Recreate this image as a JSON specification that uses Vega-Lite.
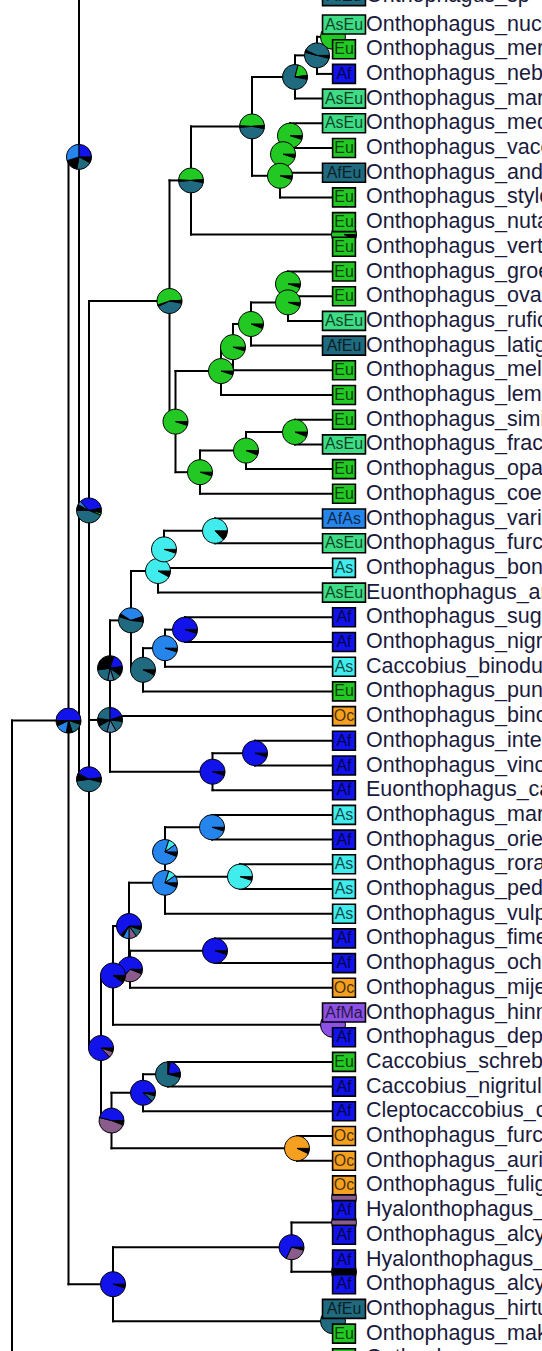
{
  "$schema": "https://vega.github.io/schema/vega-lite/v6.json",
  "width": 542,
  "height": 1351,
  "padding": 0,
  "autosize": {"type": "fit", "contains": "padding"},
  "background": "white",
  "config": {"view": {"stroke": null}},
  "datasets": {
    "nodes": [
      {"id": "R12", "x": 12, "y": 80, "p": null},
      {"id": "A", "x": 68.5, "y": 28.18, "p": "R12"},
      {"id": "B", "x": 79, "y": 5.36, "p": "A"},
      {"id": "Btop", "x": 250, "y": -19.84, "p": "B"},
      {"id": "F", "x": 89, "y": 30.557, "p": "B"},
      {"id": "E", "x": 89, "y": 19.676, "p": "F"},
      {"id": "N170", "x": 169.5, "y": 11.195, "p": "E"},
      {"id": "N192", "x": 191, "y": 6.3125, "p": "N170"},
      {"id": "N252", "x": 252, "y": 4.125, "p": "N192"},
      {"id": "N295", "x": 295, "y": 2.125, "p": "N252"},
      {"id": "N317", "x": 317, "y": 1.25, "p": "N295"},
      {"id": "H0", "x": 333, "y": 0.5, "p": "N317"},
      {"id": "N280", "x": 280, "y": 6.125, "p": "N252"},
      {"id": "N283", "x": 283, "y": 5.25, "p": "N280"},
      {"id": "N290", "x": 290, "y": 4.5, "p": "N283"},
      {"id": "H8", "x": 344, "y": 8.5, "p": "N192"},
      {"id": "N176", "x": 175.5, "y": 16.078, "p": "N170"},
      {"id": "N221", "x": 221, "y": 14.031, "p": "N176"},
      {"id": "N233", "x": 233, "y": 13.0625, "p": "N221"},
      {"id": "N251", "x": 251, "y": 12.125, "p": "N233"},
      {"id": "N288b", "x": 288, "y": 11.25, "p": "N251"},
      {"id": "N288a", "x": 288, "y": 10.5, "p": "N288b"},
      {"id": "N200", "x": 200, "y": 18.125, "p": "N176"},
      {"id": "N246", "x": 246, "y": 17.25, "p": "N200"},
      {"id": "N295b", "x": 295, "y": 16.5, "p": "N246"},
      {"id": "D", "x": 110, "y": 28.156, "p": "E"},
      {"id": "N110", "x": 110, "y": 26.0625, "p": "D"},
      {"id": "N131", "x": 131, "y": 24.125, "p": "N110"},
      {"id": "N158", "x": 158, "y": 22.125, "p": "N131"},
      {"id": "N164", "x": 164, "y": 21.25, "p": "N158"},
      {"id": "N215a", "x": 215, "y": 20.5, "p": "N164"},
      {"id": "N143a", "x": 143, "y": 26.125, "p": "N131"},
      {"id": "N165b", "x": 165, "y": 25.25, "p": "N143a"},
      {"id": "N185", "x": 185, "y": 24.5, "p": "N165b"},
      {"id": "N212b", "x": 212.5, "y": 30.25, "p": "D"},
      {"id": "N255", "x": 255, "y": 29.5, "p": "N212b"},
      {"id": "G", "x": 101, "y": 41.4375, "p": "F"},
      {"id": "N113", "x": 113, "y": 38.5, "p": "G"},
      {"id": "N129", "x": 129, "y": 36.5, "p": "N113"},
      {"id": "N165c", "x": 165, "y": 34.75, "p": "N129"},
      {"id": "N165d", "x": 165, "y": 33.5, "p": "N165c"},
      {"id": "N212", "x": 212, "y": 32.5, "p": "N165d"},
      {"id": "N240", "x": 240, "y": 34.5, "p": "N165d"},
      {"id": "N130", "x": 130, "y": 38.25, "p": "N129"},
      {"id": "N215b", "x": 215, "y": 37.5, "p": "N130"},
      {"id": "H40", "x": 333, "y": 40.5, "p": "N113"},
      {"id": "N111", "x": 111.5, "y": 44.375, "p": "G"},
      {"id": "N143b", "x": 143, "y": 43.25, "p": "N111"},
      {"id": "N168", "x": 168, "y": 42.5, "p": "N143b"},
      {"id": "N297", "x": 297, "y": 45.5, "p": "N111"},
      {"id": "H47", "x": 344, "y": 47.5, "p": null},
      {"id": "C", "x": 113, "y": 51, "p": "A"},
      {"id": "N292", "x": 291.5, "y": 49.5, "p": "C"},
      {"id": "H48", "x": 344, "y": 48.5, "p": "N292"},
      {"id": "H50", "x": 344, "y": 50.5, "p": "N292"},
      {"id": "H52", "x": 333, "y": 52.5, "p": "C"},
      {"id": "t-1", "x": 344, "y": -1.15, "p": null, "r": "AfEu", "name": "Onthophagus_sp"},
      {"id": "t0", "x": 344, "y": 0, "p": "H0", "r": "AsEu", "name": "Onthophagus_nuchicornis"},
      {"id": "t1", "x": 344, "y": 1, "p": "H0", "r": "Eu", "name": "Onthophagus_merdarius"},
      {"id": "t2", "x": 344, "y": 2, "p": "N317", "r": "Af", "name": "Onthophagus_nebulosus"},
      {"id": "t3", "x": 344, "y": 3, "p": "N295", "r": "AsEu", "name": "Onthophagus_marginalis"},
      {"id": "t4", "x": 344, "y": 4, "p": "N290", "r": "AsEu", "name": "Onthophagus_medorensis"},
      {"id": "t5", "x": 344, "y": 5, "p": "N290", "r": "Eu", "name": "Onthophagus_vacca"},
      {"id": "t6", "x": 344, "y": 6, "p": "N283", "r": "AfEu", "name": "Onthophagus_andalusicus"},
      {"id": "t7", "x": 344, "y": 7, "p": "N280", "r": "Eu", "name": "Onthophagus_stylocerus"},
      {"id": "t8", "x": 344, "y": 8, "p": "H8", "r": "Eu", "name": "Onthophagus_nutans"},
      {"id": "t9", "x": 344, "y": 9, "p": "H8", "r": "Eu", "name": "Onthophagus_verticicornis"},
      {"id": "t10", "x": 344, "y": 10, "p": "N288a", "r": "Eu", "name": "Onthophagus_groenbechi"},
      {"id": "t11", "x": 344, "y": 11, "p": "N288a", "r": "Eu", "name": "Onthophagus_ovatus"},
      {"id": "t12", "x": 344, "y": 12, "p": "N288b", "r": "AsEu", "name": "Onthophagus_ruficapillus"},
      {"id": "t13", "x": 344, "y": 13, "p": "N251", "r": "AfEu", "name": "Onthophagus_latigena"},
      {"id": "t14", "x": 344, "y": 14, "p": "N233", "r": "Eu", "name": "Onthophagus_melitaeus"},
      {"id": "t15", "x": 344, "y": 15, "p": "N221", "r": "Eu", "name": "Onthophagus_lemur"},
      {"id": "t16", "x": 344, "y": 16, "p": "N295b", "r": "Eu", "name": "Onthophagus_similis"},
      {"id": "t17", "x": 344, "y": 17, "p": "N295b", "r": "AsEu", "name": "Onthophagus_fracticornis"},
      {"id": "t18", "x": 344, "y": 18, "p": "N246", "r": "Eu", "name": "Onthophagus_opacicollis"},
      {"id": "t19", "x": 344, "y": 19, "p": "N200", "r": "Eu", "name": "Onthophagus_coenobita"},
      {"id": "t20", "x": 344, "y": 20, "p": "N215a", "r": "AfAs", "name": "Onthophagus_variegatus"},
      {"id": "t21", "x": 344, "y": 21, "p": "N215a", "r": "AsEu", "name": "Onthophagus_furcatus"},
      {"id": "t22", "x": 344, "y": 22, "p": "N164", "r": "As", "name": "Onthophagus_bonasus"},
      {"id": "t23", "x": 344, "y": 23, "p": "N158", "r": "AsEu", "name": "Euonthophagus_amyntas"},
      {"id": "t24", "x": 344, "y": 24, "p": "N185", "r": "Af", "name": "Onthophagus_sugillatus"},
      {"id": "t25", "x": 344, "y": 25, "p": "N185", "r": "Af", "name": "Onthophagus_nigriventris"},
      {"id": "t26", "x": 344, "y": 26, "p": "N165b", "r": "As", "name": "Caccobius_binodulus"},
      {"id": "t27", "x": 344, "y": 27, "p": "N143a", "r": "Eu", "name": "Onthophagus_punctatus"},
      {"id": "t28", "x": 344, "y": 28, "p": "N110", "r": "Oc", "name": "Onthophagus_binodis"},
      {"id": "t29", "x": 344, "y": 29, "p": "N255", "r": "Af", "name": "Onthophagus_interstitialis"},
      {"id": "t30", "x": 344, "y": 30, "p": "N255", "r": "Af", "name": "Onthophagus_vinctus"},
      {"id": "t31", "x": 344, "y": 31, "p": "N212b", "r": "Af", "name": "Euonthophagus_carbonarius"},
      {"id": "t32", "x": 344, "y": 32, "p": "N212", "r": "As", "name": "Onthophagus_marginicollis"},
      {"id": "t33", "x": 344, "y": 33, "p": "N212", "r": "Af", "name": "Onthophagus_orientalis"},
      {"id": "t34", "x": 344, "y": 34, "p": "N240", "r": "As", "name": "Onthophagus_rorarius"},
      {"id": "t35", "x": 344, "y": 35, "p": "N240", "r": "As", "name": "Onthophagus_pedator"},
      {"id": "t36", "x": 344, "y": 36, "p": "N165c", "r": "As", "name": "Onthophagus_vulpes"},
      {"id": "t37", "x": 344, "y": 37, "p": "N215b", "r": "Af", "name": "Onthophagus_fimetarius"},
      {"id": "t38", "x": 344, "y": 38, "p": "N215b", "r": "Af", "name": "Onthophagus_ochreatus"},
      {"id": "t39", "x": 344, "y": 39, "p": "N130", "r": "Oc", "name": "Onthophagus_mijertinus"},
      {"id": "t40", "x": 344, "y": 40, "p": "H40", "r": "AfMa", "name": "Onthophagus_hinnulus"},
      {"id": "t41", "x": 344, "y": 41, "p": "H40", "r": "Af", "name": "Onthophagus_depressus"},
      {"id": "t42", "x": 344, "y": 42, "p": "N168", "r": "Eu", "name": "Caccobius_schreberi"},
      {"id": "t43", "x": 344, "y": 43, "p": "N168", "r": "Af", "name": "Caccobius_nigritulus"},
      {"id": "t44", "x": 344, "y": 44, "p": "N143b", "r": "Af", "name": "Cleptocaccobius_convexifrons"},
      {"id": "t45", "x": 344, "y": 45, "p": "N297", "r": "Oc", "name": "Onthophagus_furcaticeps"},
      {"id": "t46", "x": 344, "y": 46, "p": "N297", "r": "Oc", "name": "Onthophagus_auritus"},
      {"id": "t47", "x": 344, "y": 47, "p": null, "r": "Oc", "name": "Onthophagus_fuliginosus"},
      {"id": "t48", "x": 344, "y": 48, "p": "H48", "r": "Af", "name": "Hyalonthophagus_alcyonides"},
      {"id": "t49", "x": 344, "y": 49, "p": "H48", "r": "Af", "name": "Onthophagus_alcyon"},
      {"id": "t50", "x": 344, "y": 50, "p": "H50", "r": "Af", "name": "Hyalonthophagus_nitidulus"},
      {"id": "t51", "x": 344, "y": 51, "p": "H50", "r": "Af", "name": "Onthophagus_alcyonides"},
      {"id": "t52", "x": 344, "y": 52, "p": "H52", "r": "AfEu", "name": "Onthophagus_hirtus"},
      {"id": "t53", "x": 344, "y": 53, "p": "H52", "r": "Eu", "name": "Onthophagus_makeri"},
      {"id": "t54", "x": 344, "y": 54, "p": null, "r": "Eu", "name": "Onthophagus_sp"}
    ],
    "pies": [
      {"n": "B", "k": 0, "c": "x", "f": 0.08}, {"n": "B", "k": 1, "c": "AfEu", "f": 0.2}, {"n": "B", "k": 2, "c": "x", "f": 0.17}, {"n": "B", "k": 3, "c": "AfAs", "f": 0.3}, {"n": "B", "k": 4, "c": "Af", "f": 0.25},
      {"n": "A", "k": 0, "c": "x", "f": 0.05}, {"n": "A", "k": 1, "c": "AfEu", "f": 0.15}, {"n": "A", "k": 2, "c": "x", "f": 0.08}, {"n": "A", "k": 3, "c": "AfAs", "f": 0.15}, {"n": "A", "k": 4, "c": "x", "f": 0.07}, {"n": "A", "k": 5, "c": "Af", "f": 0.5},
      {"n": "E", "k": 0, "c": "x", "f": 0.03}, {"n": "E", "k": 1, "c": "Eu", "f": 0.03}, {"n": "E", "k": 2, "c": "AfEu", "f": 0.44}, {"n": "E", "k": 3, "c": "x", "f": 0.08}, {"n": "E", "k": 4, "c": "AfAs", "f": 0.05}, {"n": "E", "k": 5, "c": "Af", "f": 0.34}, {"n": "E", "k": 6, "c": "x", "f": 0.03},
      {"n": "F", "k": 0, "c": "x", "f": 0.04}, {"n": "F", "k": 1, "c": "AfEu", "f": 0.44}, {"n": "F", "k": 2, "c": "x", "f": 0.1}, {"n": "F", "k": 3, "c": "Af", "f": 0.4}, {"n": "F", "k": 4, "c": "x", "f": 0.02},
      {"n": "D", "k": 0, "c": "x", "f": 0.02}, {"n": "D", "k": 1, "c": "AfEu", "f": 0.15}, {"n": "D", "k": 2, "c": "Sl", "f": 0.12}, {"n": "D", "k": 3, "c": "AfEu", "f": 0.13}, {"n": "D", "k": 4, "c": "x", "f": 0.1}, {"n": "D", "k": 5, "c": "AfEu", "f": 0.23}, {"n": "D", "k": 6, "c": "Af", "f": 0.2}, {"n": "D", "k": 7, "c": "x", "f": 0.05},
      {"n": "N110", "k": 0, "c": "x", "f": 0.1}, {"n": "N110", "k": 1, "c": "AfEu", "f": 0.1}, {"n": "N110", "k": 2, "c": "Sl", "f": 0.08}, {"n": "N110", "k": 3, "c": "AfEu", "f": 0.2}, {"n": "N110", "k": 4, "c": "x", "f": 0.32}, {"n": "N110", "k": 5, "c": "Af", "f": 0.18}, {"n": "N110", "k": 6, "c": "x", "f": 0.02},
      {"n": "N131", "k": 0, "c": "x", "f": 0.02}, {"n": "N131", "k": 1, "c": "AfEu", "f": 0.53}, {"n": "N131", "k": 2, "c": "x", "f": 0.04}, {"n": "N131", "k": 3, "c": "AfAs", "f": 0.36}, {"n": "N131", "k": 4, "c": "x", "f": 0.05},
      {"n": "N158", "k": 0, "c": "x", "f": 0.08}, {"n": "N158", "k": 1, "c": "As", "f": 0.92},
      {"n": "N164", "k": 0, "c": "x", "f": 0.05}, {"n": "N164", "k": 1, "c": "As", "f": 0.95},
      {"n": "N215a", "k": 0, "c": "x", "f": 0.13}, {"n": "N215a", "k": 1, "c": "As", "f": 0.87},
      {"n": "N143a", "k": 0, "c": "x", "f": 0.07}, {"n": "N143a", "k": 1, "c": "AfEu", "f": 0.93},
      {"n": "N165b", "k": 0, "c": "x", "f": 0.05}, {"n": "N165b", "k": 1, "c": "AfAs", "f": 0.95},
      {"n": "N185", "k": 0, "c": "x", "f": 0.05}, {"n": "N185", "k": 1, "c": "Af", "f": 0.95},
      {"n": "N212b", "k": 0, "c": "x", "f": 0.05}, {"n": "N212b", "k": 1, "c": "Af", "f": 0.95},
      {"n": "N255", "k": 0, "c": "x", "f": 0.05}, {"n": "N255", "k": 1, "c": "Af", "f": 0.95},
      {"n": "N212", "k": 0, "c": "x", "f": 0.05}, {"n": "N212", "k": 1, "c": "AfAs", "f": 0.95},
      {"n": "N165d", "k": 0, "c": "x", "f": 0.06}, {"n": "N165d", "k": 1, "c": "AfAs", "f": 0.74}, {"n": "N165d", "k": 2, "c": "As", "f": 0.1}, {"n": "N165d", "k": 3, "c": "AfAs", "f": 0.1},
      {"n": "N165c", "k": 0, "c": "x", "f": 0.06}, {"n": "N165c", "k": 1, "c": "AfAs", "f": 0.74}, {"n": "N165c", "k": 2, "c": "As", "f": 0.1}, {"n": "N165c", "k": 3, "c": "AfAs", "f": 0.1},
      {"n": "N240", "k": 0, "c": "x", "f": 0.05}, {"n": "N240", "k": 1, "c": "As", "f": 0.95},
      {"n": "N129", "k": 0, "c": "x", "f": 0.05}, {"n": "N129", "k": 1, "c": "AfEu", "f": 0.1}, {"n": "N129", "k": 2, "c": "Ma", "f": 0.1}, {"n": "N129", "k": 3, "c": "AfAs", "f": 0.08}, {"n": "N129", "k": 4, "c": "x", "f": 0.04}, {"n": "N129", "k": 5, "c": "Af", "f": 0.63},
      {"n": "N130", "k": 0, "c": "x", "f": 0.06}, {"n": "N130", "k": 1, "c": "Ma", "f": 0.3}, {"n": "N130", "k": 2, "c": "Af", "f": 0.64},
      {"n": "N215b", "k": 0, "c": "x", "f": 0.05}, {"n": "N215b", "k": 1, "c": "Af", "f": 0.95},
      {"n": "N113", "k": 0, "c": "x", "f": 0.1}, {"n": "N113", "k": 1, "c": "Af", "f": 0.9},
      {"n": "G", "k": 0, "c": "x", "f": 0.05}, {"n": "G", "k": 1, "c": "Ma", "f": 0.08}, {"n": "G", "k": 2, "c": "Af", "f": 0.87},
      {"n": "N111", "k": 0, "c": "x", "f": 0.06}, {"n": "N111", "k": 1, "c": "Ma", "f": 0.48}, {"n": "N111", "k": 2, "c": "Af", "f": 0.46},
      {"n": "N143b", "k": 0, "c": "x", "f": 0.04}, {"n": "N143b", "k": 1, "c": "AfEu", "f": 0.08}, {"n": "N143b", "k": 2, "c": "Af", "f": 0.88},
      {"n": "N168", "k": 0, "c": "x", "f": 0.04}, {"n": "N168", "k": 1, "c": "AfEu", "f": 0.71}, {"n": "N168", "k": 2, "c": "x", "f": 0.03}, {"n": "N168", "k": 3, "c": "Af", "f": 0.2}, {"n": "N168", "k": 4, "c": "x", "f": 0.02},
      {"n": "N297", "k": 0, "c": "x", "f": 0.07}, {"n": "N297", "k": 1, "c": "Oc", "f": 0.93},
      {"n": "C", "k": 0, "c": "x", "f": 0.05}, {"n": "C", "k": 1, "c": "Af", "f": 0.95},
      {"n": "N292", "k": 0, "c": "x", "f": 0.04}, {"n": "N292", "k": 1, "c": "Ma", "f": 0.28}, {"n": "N292", "k": 2, "c": "Af", "f": 0.68},
      {"n": "H40", "k": 0, "c": "AfMa", "f": 1},
      {"n": "H47", "k": 0, "c": "Ma", "f": 1},
      {"n": "H48", "k": 0, "c": "Ma", "f": 1},
      {"n": "H50", "k": 0, "c": "x", "f": 1},
      {"n": "H52", "k": 0, "c": "AfEu", "f": 1},
      {"n": "H0", "k": 0, "c": "Eu", "f": 1},
      {"n": "H8", "k": 0, "c": "x", "f": 0.08}, {"n": "H8", "k": 1, "c": "Eu", "f": 0.92},
      {"n": "N317", "k": 0, "c": "x", "f": 0.04}, {"n": "N317", "k": 1, "c": "AfEu", "f": 0.5}, {"n": "N317", "k": 2, "c": "x", "f": 0.03}, {"n": "N317", "k": 3, "c": "AfEu", "f": 0.43},
      {"n": "N295", "k": 0, "c": "x", "f": 0.03}, {"n": "N295", "k": 1, "c": "AfEu", "f": 0.76}, {"n": "N295", "k": 2, "c": "Eu", "f": 0.19}, {"n": "N295", "k": 3, "c": "x", "f": 0.02},
      {"n": "N252", "k": 0, "c": "x", "f": 0.03}, {"n": "N252", "k": 1, "c": "AfEu", "f": 0.46}, {"n": "N252", "k": 2, "c": "x", "f": 0.02}, {"n": "N252", "k": 3, "c": "Eu", "f": 0.48}, {"n": "N252", "k": 4, "c": "x", "f": 0.01},
      {"n": "N192", "k": 0, "c": "x", "f": 0.03}, {"n": "N192", "k": 1, "c": "AfEu", "f": 0.46}, {"n": "N192", "k": 2, "c": "x", "f": 0.02}, {"n": "N192", "k": 3, "c": "Eu", "f": 0.48}, {"n": "N192", "k": 4, "c": "x", "f": 0.01},
      {"n": "N170", "k": 0, "c": "x", "f": 0.03}, {"n": "N170", "k": 1, "c": "AfEu", "f": 0.4}, {"n": "N170", "k": 2, "c": "x", "f": 0.02}, {"n": "N170", "k": 3, "c": "Eu", "f": 0.54}, {"n": "N170", "k": 4, "c": "x", "f": 0.01},
      {"n": "N290", "k": 0, "c": "x", "f": 0.05}, {"n": "N290", "k": 1, "c": "Eu", "f": 0.95},
      {"n": "N283", "k": 0, "c": "x", "f": 0.05}, {"n": "N283", "k": 1, "c": "Eu", "f": 0.95},
      {"n": "N280", "k": 0, "c": "x", "f": 0.05}, {"n": "N280", "k": 1, "c": "Eu", "f": 0.95},
      {"n": "N288a", "k": 0, "c": "x", "f": 0.05}, {"n": "N288a", "k": 1, "c": "Eu", "f": 0.95},
      {"n": "N288b", "k": 0, "c": "x", "f": 0.05}, {"n": "N288b", "k": 1, "c": "Eu", "f": 0.95},
      {"n": "N251", "k": 0, "c": "x", "f": 0.06}, {"n": "N251", "k": 1, "c": "Eu", "f": 0.94},
      {"n": "N233", "k": 0, "c": "x", "f": 0.05}, {"n": "N233", "k": 1, "c": "Eu", "f": 0.95},
      {"n": "N221", "k": 0, "c": "x", "f": 0.05}, {"n": "N221", "k": 1, "c": "Eu", "f": 0.95},
      {"n": "N176", "k": 0, "c": "x", "f": 0.05}, {"n": "N176", "k": 1, "c": "Eu", "f": 0.95},
      {"n": "N295b", "k": 0, "c": "x", "f": 0.06}, {"n": "N295b", "k": 1, "c": "Eu", "f": 0.94},
      {"n": "N246", "k": 0, "c": "x", "f": 0.06}, {"n": "N246", "k": 1, "c": "Eu", "f": 0.94},
      {"n": "N200", "k": 0, "c": "x", "f": 0.05}, {"n": "N200", "k": 1, "c": "Eu", "f": 0.95}
    ]
  },
  "layer": [
    {
      "data": {"name": "nodes"},
      "transform": [
        {"filter": "datum.p != null"},
        {"lookup": "p", "from": {"data": {"name": "nodes"}, "key": "id", "fields": ["x", "y"]}, "as": ["px", "py"]}
      ],
      "mark": {"type": "rule", "stroke": "#000000", "strokeWidth": 2, "strokeCap": "square", "clip": true},
      "encoding": {
        "x": {"field": "px", "type": "quantitative", "scale": {"domain": [0, 542], "nice": false, "zero": false}, "axis": null},
        "x2": {"field": "x"},
        "y": {"field": "y", "type": "quantitative", "scale": {"domain": [-0.992, 53.704], "reverse": true, "nice": false, "zero": false}, "axis": null}
      }
    },
    {
      "data": {"name": "nodes"},
      "transform": [
        {"filter": "datum.p != null"},
        {"lookup": "p", "from": {"data": {"name": "nodes"}, "key": "id", "fields": ["x", "y"]}, "as": ["px", "py"]}
      ],
      "mark": {"type": "rule", "stroke": "#000000", "strokeWidth": 2, "strokeCap": "square", "clip": true},
      "encoding": {
        "x": {"field": "px", "type": "quantitative", "scale": {"domain": [0, 542], "nice": false, "zero": false}, "axis": null},
        "y": {"field": "py", "type": "quantitative", "scale": {"domain": [-0.992, 53.704], "reverse": true, "nice": false, "zero": false}, "axis": null},
        "y2": {"field": "y"}
      }
    },
    {
      "data": {"name": "pies"},
      "transform": [
        {"stack": "f", "groupby": ["n"], "sort": [{"field": "k", "order": "ascending"}], "offset": "normalize", "as": ["t0", "t1"]},
        {"lookup": "n", "from": {"data": {"name": "nodes"}, "key": "id", "fields": ["x", "y"]}}
      ],
      "mark": {"type": "arc", "radius": 12.5, "stroke": "#000000", "strokeWidth": 1, "clip": true},
      "encoding": {
        "x": {"field": "x", "type": "quantitative", "scale": {"domain": [0, 542], "nice": false, "zero": false}, "axis": null},
        "y": {"field": "y", "type": "quantitative", "scale": {"domain": [-0.992, 53.704], "reverse": true, "nice": false, "zero": false}, "axis": null},
        "theta": {"field": "t0", "type": "quantitative", "stack": null, "scale": {"domain": [0, 1], "range": [1.5708, 7.854]}},
        "theta2": {"field": "t1"},
        "fill": {"field": "c", "type": "nominal", "legend": null, "scale": {"domain": ["Af", "AfAs", "AfEu", "AfMa", "As", "AsEu", "Eu", "Oc", "Ma", "Sl", "x"], "range": ["#1212ea", "#2585ec", "#1f6a7e", "#8c50e6", "#40ecec", "#3ddc85", "#22c922", "#f5a020", "#8a5c8c", "#4a7fa6", "#000000"]}}
      }
    },
    {
      "data": {"name": "nodes"},
      "transform": [{"filter": "datum.r != null"}],
      "mark": {"type": "point", "filled": true, "opacity": 1, "size": 361, "stroke": "#000000", "strokeWidth": 1.6, "strokeOpacity": 1, "clip": true},
      "encoding": {
        "x": {"field": "x", "type": "quantitative", "scale": {"domain": [0, 542], "nice": false, "zero": false}, "axis": null},
        "y": {"field": "y", "type": "quantitative", "scale": {"domain": [-0.992, 53.704], "reverse": true, "nice": false, "zero": false}, "axis": null},
        "fill": {"field": "r", "type": "nominal", "legend": null, "scale": {"domain": ["Af", "AfAs", "AfEu", "AfMa", "As", "AsEu", "Eu", "Oc", "Ma", "Sl", "x"], "range": ["#1212ea", "#2585ec", "#1f6a7e", "#8c50e6", "#40ecec", "#3ddc85", "#22c922", "#f5a020", "#8a5c8c", "#4a7fa6", "#000000"]}},
        "shape": {"field": "r", "type": "nominal", "legend": null, "scale": {"domain": ["Af", "As", "Eu", "Oc", "AfAs", "AfEu", "AfMa", "AsEu"], "range": ["M-1.2,-1H1.2V1H-1.2Z", "M-1.2,-1H1.2V1H-1.2Z", "M-1.2,-1H1.2V1H-1.2Z", "M-1.2,-1H1.2V1H-1.2Z", "M-2.26,-1H2.26V1H-2.26Z", "M-2.26,-1H2.26V1H-2.26Z", "M-2.26,-1H2.26V1H-2.26Z", "M-2.26,-1H2.26V1H-2.26Z"]}}
      }
    },
    {
      "data": {"name": "nodes"},
      "transform": [{"filter": "datum.r != null"}],
      "mark": {"type": "text", "font": "Liberation Sans", "fontSize": 16, "align": "center", "baseline": "middle", "fill": "#000000", "fillOpacity": 0.72, "clip": true},
      "encoding": {
        "x": {"field": "x", "type": "quantitative", "scale": {"domain": [0, 542], "nice": false, "zero": false}, "axis": null},
        "y": {"field": "y", "type": "quantitative", "scale": {"domain": [-0.992, 53.704], "reverse": true, "nice": false, "zero": false}, "axis": null},
        "text": {"field": "r"}
      }
    },
    {
      "data": {"name": "nodes"},
      "transform": [{"filter": "datum.name != null"}],
      "mark": {"type": "text", "font": "Liberation Sans", "fontSize": 21.5, "align": "left", "baseline": "middle", "dx": 22, "fill": "#1a1a3c", "clip": true},
      "encoding": {
        "x": {"field": "x", "type": "quantitative", "scale": {"domain": [0, 542], "nice": false, "zero": false}, "axis": null},
        "y": {"field": "y", "type": "quantitative", "scale": {"domain": [-0.992, 53.704], "reverse": true, "nice": false, "zero": false}, "axis": null},
        "text": {"field": "name"}
      }
    }
  ]
}
